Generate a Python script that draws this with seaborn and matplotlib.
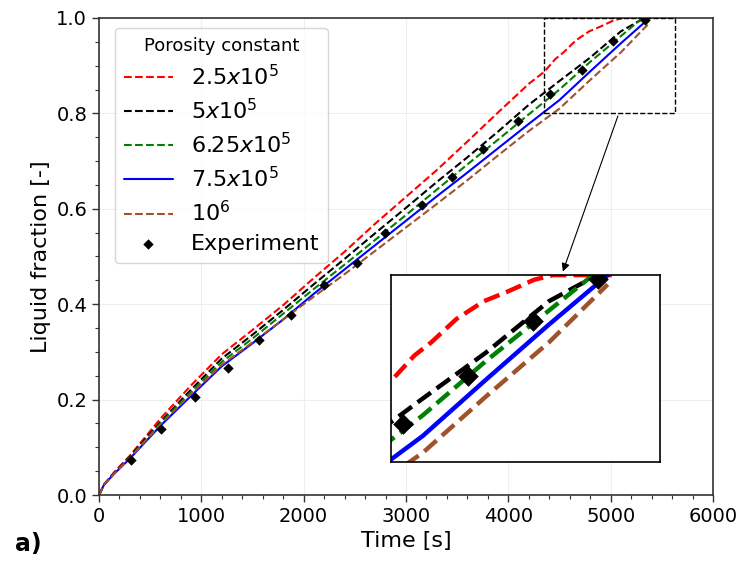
import numpy as np
import pandas as pd
import matplotlib
matplotlib.use('Agg')
import matplotlib.pyplot as plt
from matplotlib.patches import Rectangle
from matplotlib.ticker import AutoMinorLocator
import seaborn as sns

# simulated liquid fraction for each porosity constant
t_grid = [0, 50, 150, 300, 600, 900, 1200, 1500, 1800, 2100, 2400, 2700,
          3000, 3300, 3600, 3900, 4200, 4500, 4800, 5100]

t_25 = t_grid[:17] + [4350, 4460, 4540, 4660, 4790, 4900, 5030, 5120, 5400]
y_25 = [0, 0.022, 0.048, 0.082, 0.160, 0.230, 0.295, 0.346, 0.398, 0.455, 0.510,
        0.569, 0.625, 0.681, 0.741, 0.802, 0.862,
        0.887, 0.914, 0.928, 0.953, 0.972, 0.982, 0.995, 1.0, 1.0]

t_50 = t_grid + [5330]
y_50 = [0, 0.022, 0.047, 0.080, 0.153, 0.221, 0.286, 0.336, 0.388, 0.442, 0.495,
        0.549, 0.602, 0.656, 0.708, 0.762, 0.818, 0.868, 0.917, 0.972, 1.0]

t_625 = t_grid + [5310]
y_625 = [0, 0.022, 0.046, 0.078, 0.150, 0.216, 0.279, 0.328, 0.380, 0.432, 0.483,
         0.535, 0.587, 0.640, 0.693, 0.745, 0.798, 0.850, 0.908, 0.962, 1.0]

t_75 = t_grid + [5380]
y_75 = [0, 0.022, 0.045, 0.076, 0.145, 0.208, 0.270, 0.318, 0.368, 0.422, 0.473,
        0.524, 0.575, 0.626, 0.676, 0.727, 0.778, 0.828, 0.888, 0.947, 1.0]

t_100 = t_grid + [5380]
y_100 = [0, 0.022, 0.045, 0.077, 0.148, 0.212, 0.273, 0.320, 0.368, 0.416, 0.463,
         0.512, 0.561, 0.610, 0.660, 0.712, 0.763, 0.810, 0.870, 0.928, 0.99]

# experiment
t_exp = [310, 603, 941, 1264, 1564, 1879, 2199, 2518, 2795, 3153, 3446, 3756,
         4098, 4407, 4717, 5026, 5336]
y_exp = [0.073, 0.138, 0.206, 0.267, 0.325, 0.377, 0.440, 0.487, 0.550, 0.608,
         0.666, 0.726, 0.785, 0.841, 0.892, 0.951, 0.996]

labels = ['$2.5x10^5$', '$5x10^5$', '$6.25x10^5$', '$7.5x10^5$', '$10^6$']
colors = ['red', 'black', 'green', 'blue', 'sienna']
styles = ['--', '--', '--', '-', '--']
series = [(t_25, y_25), (t_50, y_50), (t_625, y_625), (t_75, y_75), (t_100, y_100)]

sns.set_theme(style='ticks')
plt.rcParams['font.family'] = ['DejaVu Sans']
plt.rcParams['text.color'] = 'black'
plt.rcParams['axes.labelcolor'] = 'black'
plt.rcParams['xtick.color'] = 'black'
plt.rcParams['ytick.color'] = 'black'

fig = plt.figure(figsize=(7.41, 5.62), dpi=100)
ax = fig.add_axes([0.1336, 0.1192, 0.8286, 0.8488])

def draw(a, lw, ms, with_labels):
    for (tt, yy), lab, c, ls in zip(series, labels, colors, styles):
        df = pd.DataFrame({'t': tt, 'y': yy})
        sns.lineplot(data=df, x='t', y='y', ax=a, color=c, linestyle=ls, lw=lw,
                     label=lab if with_labels else None, sort=False)
    sns.scatterplot(x=t_exp, y=y_exp, ax=a, marker='D', color='black', s=ms,
                    edgecolor='black', linewidth=0, zorder=5,
                    label='Experiment' if with_labels else None)

draw(ax, 1.5, 28, True)

ax.set_xlim(0, 6000)
ax.set_ylim(0, 1.0)
ax.set_xticks(range(0, 6001, 1000))
ax.set_yticks([0, 0.2, 0.4, 0.6, 0.8, 1.0])
ax.xaxis.set_minor_locator(AutoMinorLocator(5))
ax.yaxis.set_minor_locator(AutoMinorLocator(4))
ax.tick_params(which='major', labelsize=14, length=5, width=1, color='#333333')
ax.tick_params(which='minor', length=3, width=0.8, color='#333333')
ax.grid(True, which='major', color='#eeeeee', lw=0.8)
ax.set_axisbelow(True)
for s in ax.spines.values():
    s.set_visible(True)
    s.set_color('#333333')
    s.set_linewidth(1.2)
ax.set_xlabel('Time [s]', fontsize=16)
ax.set_ylabel('Liquid fraction [-]', fontsize=16)

leg = ax.legend(title='Porosity constant', loc='upper left', bbox_to_anchor=(0.026, 0.979),
                borderaxespad=0, fontsize=16, title_fontsize=13, frameon=True,
                scatterpoints=1, handlelength=2.2, labelspacing=0.4)
leg.get_frame().set_edgecolor('#cccccc')

# zoom box and inset
x0, x1, y0, y1 = 4350, 5630, 0.8, 1.0
ax.add_patch(Rectangle((x0, y0), x1 - x0, y1 - y0, fill=False, ls='--',
                       lw=1, color='black', zorder=6))
axin = ax.inset_axes([0.476, 0.069, 0.438, 0.392])
draw(axin, 3.2, 110, False)
axin.set_xlim(x0, x1)
axin.set_ylim(y0, y1)
axin.set_xticks([])
axin.set_yticks([])
axin.set_xlabel('')
axin.set_ylabel('')
axin.set_facecolor('white')
for s in axin.spines.values():
    s.set_color('black')
    s.set_linewidth(1.2)
if axin.get_legend() is not None:
    axin.get_legend().remove()

ax.annotate('', xy=(0.754, 0.463), xycoords='axes fraction',
            xytext=(5080, 0.80), textcoords='data',
            arrowprops=dict(arrowstyle='-|>', color='black', lw=0.8, mutation_scale=12))

fig.text(0.02, 0.02, 'a)', fontsize=17, fontweight='bold')

fig.savefig('out.png', dpi=100)
